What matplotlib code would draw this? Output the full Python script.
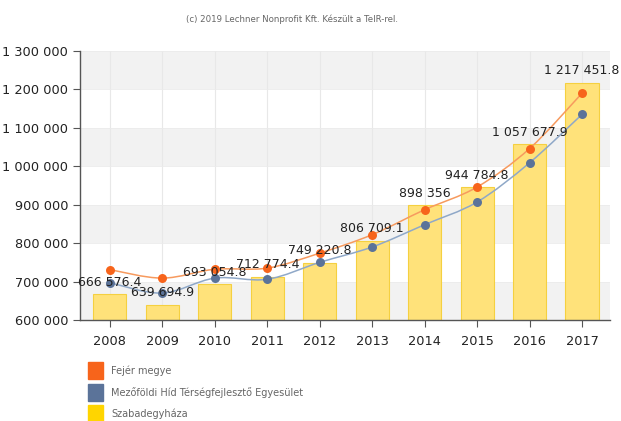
import matplotlib.pyplot as plt
import numpy as np
from matplotlib.path import Path
from matplotlib.patches import PathPatch, Rectangle

years = ['2008', '2009', '2010', '2011', '2012', '2013', '2014', '2015', '2016', '2017']
# Szabadegyháza (bars)
szabadegyhaza = [666576.4, 639694.9, 693054.8, 712774.4, 749220.8,
                 806709.1, 898356, 944784.8, 1057677.9, 1217451.8]
# Fejér megye (orange line)
fejer = [731000, 709000, 732000, 735000, 774000, 822000, 887000, 946000, 1046000, 1190000]
# Mezőföldi Híd Térségfejlesztő Egyesület (blue line)
mezofoldi = [697000, 670000, 709000, 706000, 750000, 790000, 848000, 907000, 1009000, 1135000]

legend_names = ['Fejér megye', 'Mezőföldi Híd Térségfejlesztő Egyesület', 'Szabadegyháza']
legend_colors = ['#f7641b', '#5b7399', '#ffd500']
yticks = [600000, 700000, 800000, 900000, 1000000, 1100000, 1200000, 1300000]


def fmt(v):
    # hungarian style: space as thousands separator, point as decimal
    whole = int(v)
    s = '{:,}'.format(whole).replace(',', ' ')
    frac = round(v - whole, 1)
    if frac > 0:
        s += '.' + str(int(round(frac * 10)))
    return s


def spline_path(x, y, t=1/6.):
    # Catmull-Rom style smoothing drawn as cubic bezier segments
    verts = [(x[0], y[0])]
    codes = [Path.MOVETO]
    n = len(x)
    for i in range(n - 1):
        x0, y0 = (x[i - 1], y[i - 1]) if i > 0 else (x[i], y[i])
        x3, y3 = (x[i + 2], y[i + 2]) if i + 2 < n else (x[i + 1], y[i + 1])
        c1 = (x[i] + (x[i + 1] - x0) * t, y[i] + (y[i + 1] - y0) * t)
        c2 = (x[i + 1] - (x3 - x[i]) * t, y[i + 1] - (y3 - y[i]) * t)
        verts += [c1, c2, (x[i + 1], y[i + 1])]
        codes += [Path.CURVE4] * 3
    return Path(verts, codes)


fig = plt.figure(figsize=(6.21, 4.21), dpi=100)
ax = fig.add_axes([0.1288, 0.2399, 0.8532, 0.6391])
x = np.arange(len(years))

# alternating bands
for lo in (600000, 800000, 1000000, 1200000):
    ax.axhspan(lo, lo + 100000, color='#f2f2f2', zorder=0, lw=0)
for xi in x:
    ax.axvline(xi, color='#e8e8e8', lw=0.8, zorder=0.5)
for yt in yticks:
    ax.axhline(yt, color='#ebebeb', lw=0.6, zorder=0.5)

ax.bar(x, np.array(szabadegyhaza) - 600000, bottom=600000, width=0.63,
       color='#ffe27a', edgecolor='#f5d040', lw=0.8, zorder=2)

ax.add_patch(PathPatch(spline_path(x, fejer), fill=False, edgecolor='#f79a5e', lw=1.1, zorder=3))
ax.add_patch(PathPatch(spline_path(x, mezofoldi), fill=False, edgecolor='#8fa8c8', lw=1.1, zorder=3))
ax.scatter(x, fejer, s=42, color='#f7641b', zorder=4, lw=0)
ax.scatter(x, mezofoldi, s=42, color='#5b7399', zorder=4, lw=0)

for xi, v in zip(x, szabadegyhaza):
    ax.annotate(fmt(v), (xi, v), xytext=(0, 4), textcoords='offset points',
                ha='center', va='bottom', fontsize=9, color='#222222', zorder=5)

ax.set_xlim(-0.57, 9.53)
ax.set_ylim(600000, 1300000)
ax.set_xticks(x)
ax.set_xticklabels(years)
ax.set_yticks(yticks)
ax.set_yticklabels([fmt(v) for v in yticks])
ax.tick_params(axis='both', labelsize=9.3, colors='#555555', labelcolor='#222222', length=5, width=0.8)
ax.tick_params(axis='x', pad=6)
for side in ('top', 'right'):
    ax.spines[side].set_visible(False)
for side in ('left', 'bottom'):
    ax.spines[side].set_color('#555555')
    ax.spines[side].set_linewidth(1)

fig.text(0.47, 0.955, '(c) 2019 Lechner Nonprofit Kft. Készült a TeIR-rel.',
         fontsize=6.2, color='#666666', ha='center', va='center')

# legend below the chart
for i, (name, col) in enumerate(zip(legend_names, legend_colors)):
    yc = 421 - (371 + i * 21.5)
    fig.patches.append(Rectangle((88 / 621, (yc - 8) / 421), 15 / 621, 17 / 421,
                                 transform=fig.transFigure, color=col, figure=fig))
    fig.text(111 / 621, yc / 421, name, fontsize=7, color='#666666', va='center')

fig.savefig('out.png', dpi=100)
